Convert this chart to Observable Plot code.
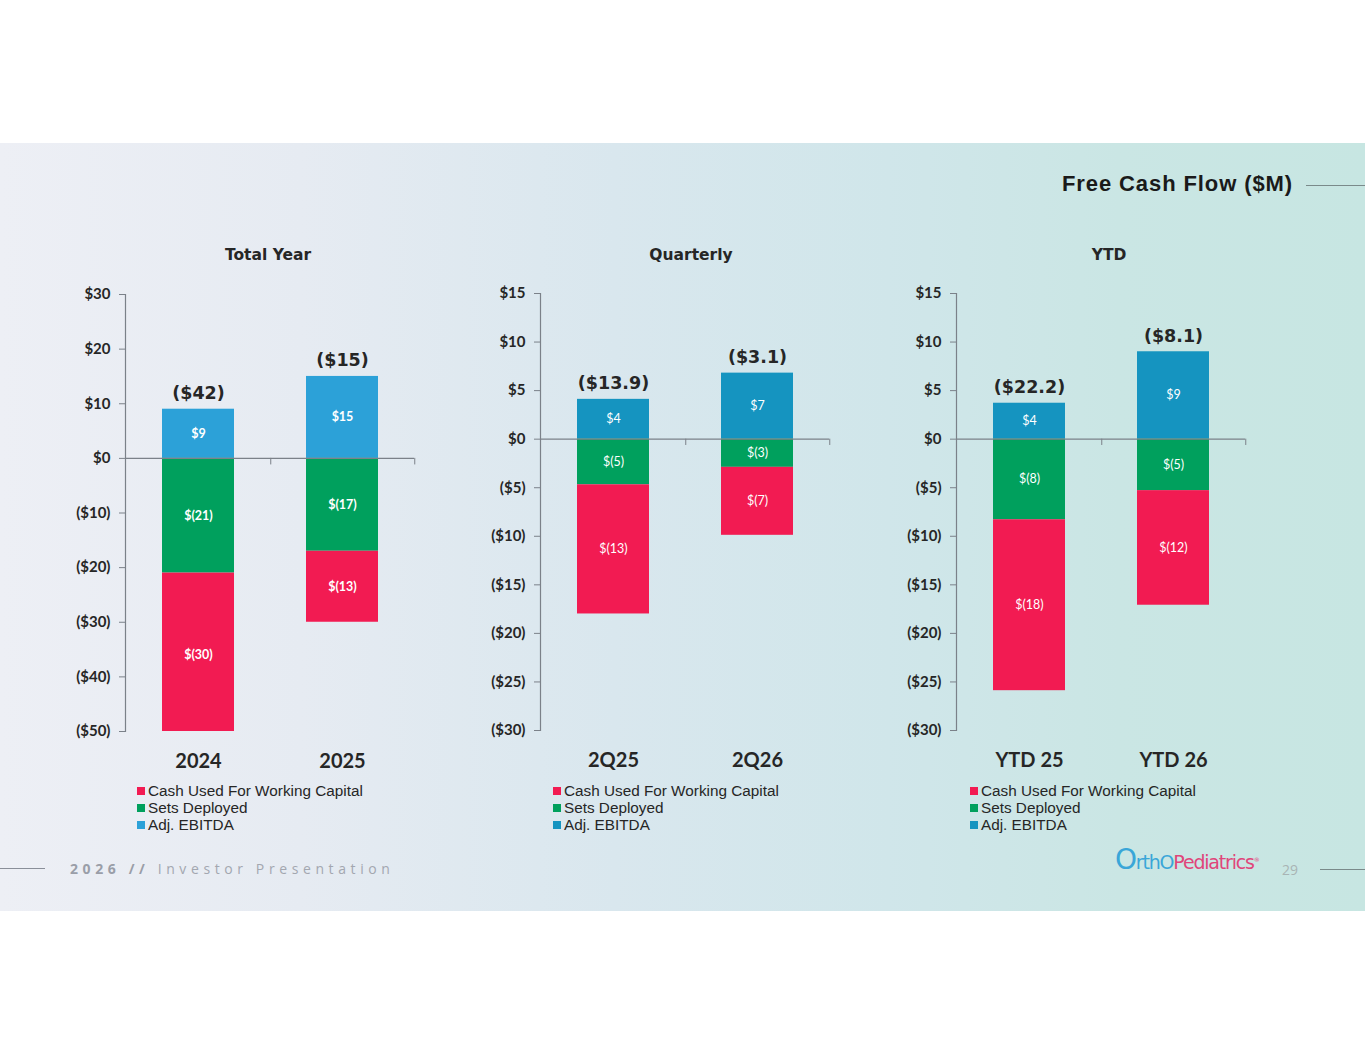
<!DOCTYPE html>
<html>
<head>
<meta charset="utf-8">
<script src="https://cdn.jsdelivr.net/npm/d3@7"></script>
<script src="https://cdn.jsdelivr.net/npm/@observablehq/plot@0.6"></script>
<style>
  html, body { margin: 0; padding: 0; background: #ffffff; }
  #page { position: relative; width: 1365px; height: 1055px; overflow: hidden; background: #fff; }
  #slide { position: absolute; left: 0; top: 143px; width: 1365px; height: 768px;
    background: linear-gradient(90deg, #EDEFF5 0%, #E6EBF2 22%, #D9E7EE 45%, #D0E6EA 65%, #CAE6E4 82%, #C7E6E2 100%); }
  .abs { position: absolute; }
  .ptitle { font-family: "DejaVu Sans", sans-serif; font-weight: bold; font-size: 15.5px; color: #262626; transform: translateX(-50%); white-space: nowrap; }
  .legend { font-family: "Liberation Sans", Arial, sans-serif; font-size: 15.3px; color: #262626; line-height: 17px; }
  .legend div { display: flex; align-items: center; white-space: nowrap; }
  .legend span.sw { display: inline-block; width: 8px; height: 8px; margin-right: 3px; }
  .plotbox { position: absolute; }
  .plotbox svg { overflow: visible; }
</style>
</head>
<body>
<div id="page">
  <div id="slide"></div>
  <div class="abs" style="left:1062px; top:171px; font-family:'Liberation Sans',Arial,sans-serif; font-weight:bold; font-size:22px; letter-spacing:0.9px; color:#1a1a1a; white-space:nowrap;">Free Cash Flow ($M)</div>
  <div class="abs" style="left:1306px; top:185px; width:59px; height:1px; background:#7a8a8a;"></div>

  <div class="abs ptitle" style="left:268px; top:246px;">Total Year</div>
  <div class="abs ptitle" style="left:691px; top:246px;">Quarterly</div>
  <div class="abs ptitle" style="left:1109px; top:246px;">YTD</div>

  <div id="p1" class="plotbox" style="left:60px; top:280px;"></div>
  <div id="p2" class="plotbox" style="left:475px; top:280px;"></div>
  <div id="p3" class="plotbox" style="left:891px; top:280px;"></div>

  <div id="l1" class="abs legend" style="left:137px; top:782px;"></div>
  <div id="l2" class="abs legend" style="left:553px; top:782px;"></div>
  <div id="l3" class="abs legend" style="left:970px; top:782px;"></div>

  <div class="abs" style="left:0; top:868px; width:45px; height:1px; background:#8a8f99;"></div>
  <div class="abs" style="left:70px; top:859px; font-family:'Open Sans',sans-serif; font-size:14px; letter-spacing:4.6px; color:#a3a7b0; white-space:nowrap;"><b style="color:#9a9ea8;">2026 //</b> Investor Presentation</div>

  <div class="abs" style="left:1115px; top:843px; font-family:'DejaVu Sans',sans-serif; font-size:19px; white-space:nowrap; letter-spacing:-1.2px;">
    <span style="color:#3aa6d8; font-size:28px;">O</span><span style="color:#3aa6d8;">rthO</span><span style="color:#e0457a;">Pediatrics</span><sup style="color:#e0457a;font-size:6px;">®</sup>
  </div>
  <div class="abs" style="left:1282px; top:860px; font-family:'Open Sans',sans-serif; font-size:14px; color:#a8b4b4;">29</div>
  <div class="abs" style="left:1320px; top:869px; width:45px; height:1px; background:#7a8a8a;"></div>
</div>

<script>
// ---------------- DATA ----------------
const seriesNames = ["Adj. EBITDA", "Sets Deployed", "Cash Used For Working Capital"];
const legendOrder = ["Cash Used For Working Capital", "Sets Deployed", "Adj. EBITDA"];

const totalYearCats = ["2024", "2025"];
const totalYearEbitda = [9, 15];
const totalYearSets = [-21, -17];
const totalYearWC = [-30, -13];
const totalYearFCF = [-42, -15];
const totalYearTicks = [30, 20, 10, 0, -10, -20, -30, -40, -50];

const quarterCats = ["2Q25", "2Q26"];
const quarterEbitda = [4.1, 6.8];
const quarterSets = [-4.7, -2.9];
const quarterWC = [-13.3, -7.0];
const quarterFCF = [-13.9, -3.1];
const quarterTicks = [15, 10, 5, 0, -5, -10, -15, -20, -25, -30];

const ytdCats = ["YTD 25", "YTD 26"];
const ytdEbitda = [3.7, 9.0];
const ytdSets = [-8.3, -5.3];
const ytdWC = [-17.6, -11.8];
const ytdFCF = [-22.2, -8.1];
const ytdTicks = [15, 10, 5, 0, -5, -10, -15, -20, -25, -30];

const colorWC = "#F21B52";
const colorSets = "#00A05D";
const colorEbitdaLight = "#2CA1D8";
const colorEbitdaDark = "#1594C0";

// ---------------- HELPERS ----------------
const tickFmt = d => d < 0 ? `($${-d})` : `$${d}`;
const segFmt = v => v < 0 ? `$(${Math.round(-v)})` : `$${Math.round(v)}`;

function makePanel(el, legendEl, cfg) {
  const rows = [];
  cfg.cats.forEach((c, i) => {
    rows.push({cat: c, series: seriesNames[0], value: cfg.ebitda[i]});
    rows.push({cat: c, series: seriesNames[1], value: cfg.sets[i]});
    rows.push({cat: c, series: seriesNames[2], value: cfg.wc[i]});
  });
  const totals = cfg.cats.map((c, i) => ({cat: c, top: cfg.ebitda[i], fcf: cfg.fcf[i]}));
  const colors = [cfg.ebitdaColor, colorSets, colorWC];
  const ymin = d3.min(cfg.ticks), ymax = d3.max(cfg.ticks);
  const width = 370, height = 500, mL = 65, mR = 16;
  const step = (width - mL - mR) / 2;

  const plot = Plot.plot({
    width, height,
    marginLeft: mL, marginRight: mR, marginTop: cfg.mTop, marginBottom: height - cfg.mTop - 437,
    style: {background: "transparent", fontFamily: "Lato, sans-serif", fontSize: "15px", fontWeight: "bold", color: "#262626", overflow: "visible"},
    x: {domain: cfg.cats, paddingInner: 0.5, paddingOuter: 0.25, label: null},
    y: {domain: [ymin, ymax], label: null},
    color: {domain: seriesNames, range: colors},
    marks: [
      Plot.barY(rows, Plot.stackY({x: "cat", y: "value", z: "series", fill: "series", clip: true})),
      Plot.text(rows, Plot.stackY({x: "cat", y: "value", z: "series", text: d => segFmt(d.value),
        fill: "white", fontSize: 12.5, fontWeight: cfg.segWeight, fontFamily: "Lato, sans-serif"})),
      Plot.text(totals, {x: "cat", y: "top", text: d => `($${cfg.totFmt(-d.fcf)})`, lineAnchor: "bottom", dy: -10,
        fontSize: 17.5, fontWeight: "bold", fontFamily: "DejaVu Sans, sans-serif", fill: "#262626"}),
      Plot.ruleY([0], {stroke: "#7b8189", strokeWidth: 1.2}),
      Plot.ruleX(cfg.cats, {x: d => d, y1: 0, y2: -cfg.tickLen, dx: step / 2, stroke: "#7b8189"}),
      Plot.frame({anchor: "left", stroke: "#7b8189", strokeWidth: 1.2}),
      Plot.axisY({ticks: cfg.ticks, tickFormat: tickFmt, tickSize: 6, tickPadding: 9, stroke: "#7b8189",
        fontSize: 15, fontWeight: "bold", fill: "#262626"}),
      Plot.axisX({anchor: "bottom", tickSize: 0, tickPadding: 22, fontSize: 20, fontWeight: "bold", fill: "#262626"})
    ]
  });
  el.appendChild(plot);

  legendOrder.forEach(name => {
    const row = document.createElement("div");
    const sw = document.createElement("span");
    sw.className = "sw";
    sw.style.background = colors[seriesNames.indexOf(name)];
    row.appendChild(sw);
    row.appendChild(document.createTextNode(name));
    legendEl.appendChild(row);
  });
}

makePanel(document.getElementById("p1"), document.getElementById("l1"), {
  cats: totalYearCats, ebitda: totalYearEbitda, sets: totalYearSets, wc: totalYearWC, fcf: totalYearFCF,
  ticks: totalYearTicks, ebitdaColor: colorEbitdaLight, segWeight: "bold", totFmt: v => v.toFixed(0),
  mTop: 14, tickLen: 1.2
});
makePanel(document.getElementById("p2"), document.getElementById("l2"), {
  cats: quarterCats, ebitda: quarterEbitda, sets: quarterSets, wc: quarterWC, fcf: quarterFCF,
  ticks: quarterTicks, ebitdaColor: colorEbitdaDark, segWeight: "normal", totFmt: v => v.toFixed(1),
  mTop: 13, tickLen: 0.65
});
makePanel(document.getElementById("p3"), document.getElementById("l3"), {
  cats: ytdCats, ebitda: ytdEbitda, sets: ytdSets, wc: ytdWC, fcf: ytdFCF,
  ticks: ytdTicks, ebitdaColor: colorEbitdaDark, segWeight: "normal", totFmt: v => v.toFixed(1),
  mTop: 13, tickLen: 0.65
});
</script>
</body>
</html>
